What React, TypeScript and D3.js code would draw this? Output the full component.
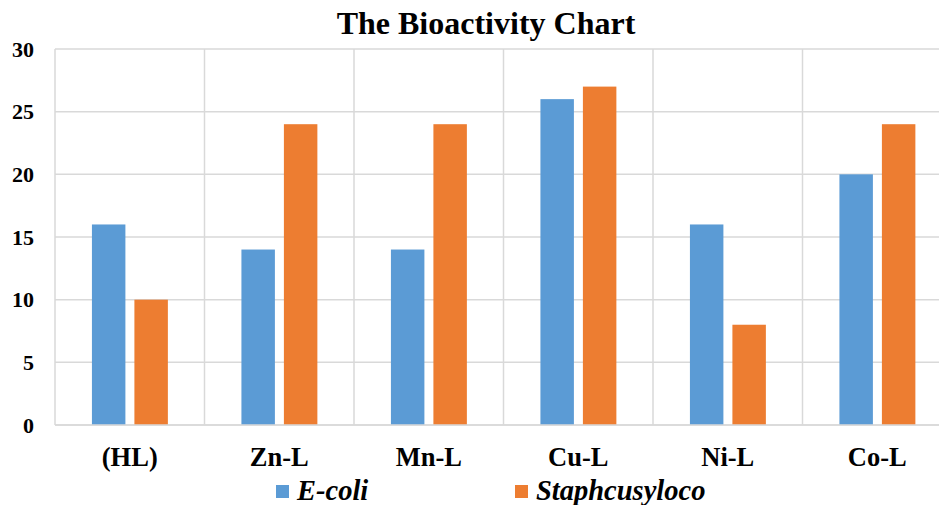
import React from "react";
import * as d3 from "d3";

const categories = ["(HL)", "Zn-L", "Mn-L", "Cu-L", "Ni-L", "Co-L"];
const seriesNames = ["E-coli", "Staphcusyloco"];
const ecoli = [16, 14, 14, 26, 16, 20];
const staph = [10, 24, 24, 27, 8, 24];
const yTicks = [0, 5, 10, 15, 20, 25, 30];
const colors = ["#5b9bd5", "#ed7d31"];

const W = 939;
const H = 505;
const left = 55;
const right = 952;
const top = 49;
const bottom = 425;
const font = '"Liberation Serif", "DejaVu Serif", "Times New Roman", serif';

export default function App() {
  const x = d3.scaleBand<string>().domain(categories).range([left, right]).paddingInner(0).paddingOuter(0);
  const bw = x.bandwidth();
  const inner = d3
    .scaleBand<string>()
    .domain(seriesNames)
    .range([bw * 0.247, bw * 0.755])
    .paddingInner(0.212)
    .paddingOuter(0);
  const y = d3.scaleLinear().domain([0, 30]).range([bottom, top]);
  const series = [ecoli, staph];
  const grid = "#d9d9d9";
  const ts = { fontFamily: font };

  return (
    <svg
      width={W}
      height={H}
      style={{ position: "absolute", left: 0, top: 0, background: "#fff" }}
    >
      <rect x={0} y={0} width={W} height={H} fill="#fff" />
      {yTicks.map((t) => (
        <line key={"h" + t} x1={left} x2={right} y1={y(t)} y2={y(t)} stroke={grid} strokeWidth={1.5} />
      ))}
      {categories.map((c) => (
        <line key={"v" + c} x1={x(c)!} x2={x(c)!} y1={top} y2={bottom} stroke={grid} strokeWidth={1.5} />
      ))}
      {series.map((vals, si) =>
        categories.map((c, ci) => (
          <rect
            key={si + "-" + c}
            x={x(c)! + inner(seriesNames[si])!}
            y={y(vals[ci])}
            width={inner.bandwidth()}
            height={y(0) - y(vals[ci])}
            fill={colors[si]}
          />
        ))
      )}
      <line x1={left} x2={right} y1={y(0)} y2={y(0)} stroke={grid} strokeWidth={1.5} />
      {yTicks.map((t) => (
        <text
          key={"yt" + t}
          x={34}
          y={y(t) + 7.5}
          textAnchor="end"
          fontSize={22}
          fontWeight="bold"
          fill="#000"
          style={ts}
        >
          {t}
        </text>
      ))}
      {categories.map((c) => (
        <text
          key={"xt" + c}
          x={x(c)! + bw / 2}
          y={466}
          textAnchor="middle"
          fontSize={26.5}
          fontWeight="bold"
          fill="#000"
          style={ts}
        >
          {c}
        </text>
      ))}
      <text x={486} y={34} textAnchor="middle" fontSize={32} fontWeight="bold" fill="#000" style={ts}>
        The Bioactivity Chart
      </text>
      {[276, 515].map((lx, i) => (
        <g key={"lg" + i}>
          <rect x={lx} y={485} width={13} height={13} fill={colors[i]} />
          <text x={lx + 21} y={500} fontSize={28.5} fontWeight="bold" fontStyle="italic" fill="#000" style={ts}>
            {seriesNames[i]}
          </text>
        </g>
      ))}
    </svg>
  );
}
